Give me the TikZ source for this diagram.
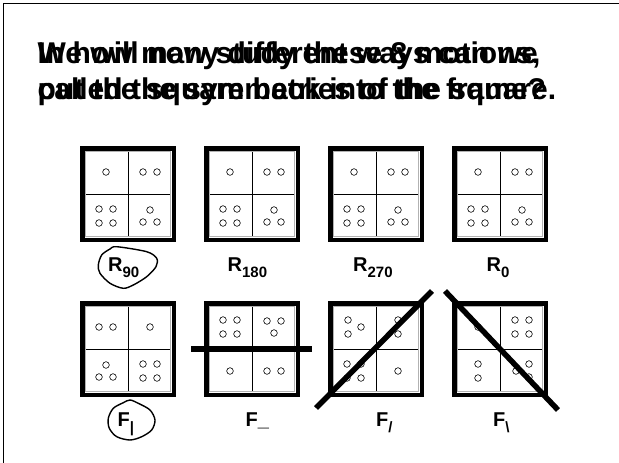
\documentclass[tikz,border=0pt]{standalone}
\usepackage{fontspec}
\setmainfont{Liberation Sans}
\newcommand\lsub[1]{\raisebox{-5.5pt}{\fontsize{15}{15}\selectfont #1}}

\begin{document}
\begin{tikzpicture}[x=1pt, y=-1pt,
    sqframe/.style={line width=4.5},
    divider/.style={line width=0.7},
    pip/.style={line width=0.6},
    axisbar/.style={line width=5.5},
    ring/.style={line width=1.4},
    headline/.style={font=\fontsize{30}{36}\selectfont\bfseries, inner sep=0, anchor=base west},
    lab/.style={font=\fontsize{20}{20}\selectfont\bfseries, inner sep=0, anchor=base west},
    pics/d1/.style={code={\draw[pip] (0,0) circle[radius=3.3];}},
    pics/d2h/.style={code={\foreach \u in {-7,7} \draw[pip] (\u,0) circle[radius=3.3];}},
    pics/d2v/.style={code={\foreach \v in {-7,7} \draw[pip] (0,\v) circle[radius=3.3];}},
    pics/d3u/.style={code={\foreach \u/\v in {0/-6,-7/6,7/6} \draw[pip] (\u,\v) circle[radius=3.3];}},
    pics/d3d/.style={code={\foreach \u/\v in {-7/-6,7/-6,0/6} \draw[pip] (\u,\v) circle[radius=3.3];}},
    pics/d3l/.style={code={\foreach \u/\v in {-6/-7,-6/7,7/0} \draw[pip] (\u,\v) circle[radius=3.3];}},
    pics/d3r/.style={code={\foreach \u/\v in {7/-7,7/6,-6/0} \draw[pip] (\u,\v) circle[radius=3.3];}},
    pics/d4/.style={code={\foreach \u/\v in {-7/-7,7/-7,-7/7,7/7} \draw[pip] (\u,\v) circle[radius=3.3];}}]
    \useasboundingbox (0,0) rectangle (619,463);
    \draw[line width=1.5] (3.5,463) -- (3.5,3.5) -- (619,3.5);

    \node[headline] (headA1) at (37.5,63) {We will now study these 8 motions,};
    \node[headline] (headB1) at (37.5,63) {In how many different ways can we};
    \node[headline] (headA2) at (37.5,99) {called the symmetries of the square.};
    \node[headline] (headB2) at (37.5,99) {put the square back into the frame?};

    \foreach \sx/\sy/\a/\b/\c/\d in {80/146/d1/d2h/d4/d3u, 204/146/d1/d2h/d4/d3u,
        328/146/d1/d2h/d4/d3u, 452/146/d1/d2h/d4/d3u,
        80/301/d2h/d1/d3u/d4, 204/301/d4/d3d/d1/d2h,
        328/301/d3l/d2v/d4/d1, 452/301/d1/d4/d2v/d3r} {
        \begin{scope}[shift={(\sx,\sy)}]
            \draw[divider] (48,5) -- (48,91) (5,48) -- (91,48);
            \draw[gray!60, line width=0.9] (5.2,5.2) rectangle (90.8,90.8);
            \draw[sqframe] (2.25,2.25) rectangle (93.75,93.75);
            \pic at (26,26) {\a};
            \pic at (70,26) {\b};
            \pic at (26,70) {\c};
            \pic at (70,70) {\d};
        \end{scope}
    }

    \draw[axisbar] (191,349) -- (312,349);
    \draw[axisbar] (316,408) -- (432,291);
    \draw[axisbar] (445,291) -- (558,410);

    \node[lab] (lR90) at (108,271.5) {R\lsub{90}};
    \node[lab] (lR180) at (227.5,271.5) {R\lsub{180}};
    \node[lab] (lR270) at (353,271.5) {R\lsub{270}};
    \node[lab] (lR0) at (486.5,271.5) {R\lsub{0}};
    \node[lab] (lFv) at (117.5,426.5) {F\lsub{|}};
    \node[lab] (lFh) at (245.5,426.5) {F\_};
    \node[lab] (lFd) at (376,426.5) {F\lsub{/}};
    \node[lab] (lFa) at (493,426.5) {F\lsub{\textbackslash}};

    \draw[ring] plot[smooth cycle] coordinates {(116.7,246.7) (146.7,251.7) (156.7,258.3)
        (156,266.7) (146.7,276.7) (133.3,285) (123.3,288.3) (110,283.3) (100,273.3)
        (98.3,265) (101.7,255) (110,249)};
    \draw[ring] plot[smooth cycle] coordinates {(130,400) (138.3,403.3) (150,410)
        (155,420) (151.7,430) (141.7,436.7) (130,440) (116.7,436.7) (109.3,428.3)
        (108.3,418.3) (113.3,408.3) (123.3,402.7)};
\end{tikzpicture}
\end{document}
